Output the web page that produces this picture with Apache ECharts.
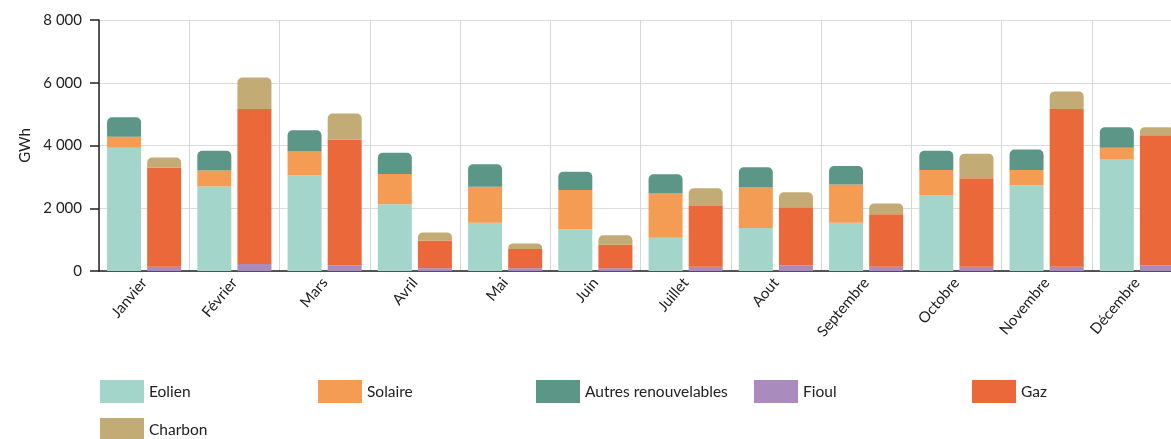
<!DOCTYPE html>
<html>
<head>
<meta charset="utf-8">
<script src="https://cdn.jsdelivr.net/npm/echarts@6/dist/echarts.min.js"></script>
<style>
html,body{margin:0;padding:0;background:#fff;overflow:hidden;width:1171px;height:439px;}
#chart{width:1182px;height:439px;}
</style>
</head>
<body>
<div id="chart"></div>
<script>
const months = ['Janvier','Février','Mars','Avril','Mai','Juin','Juillet','Aout','Septembre','Octobre','Novembre','Décembre'];
const eolien  = [3930, 2690, 3040, 2125, 1540, 1330, 1060, 1370, 1540, 2420, 2730, 3570];
const solaire = [ 350,  510,  765,  965, 1145, 1250, 1410, 1295, 1220,  800,  490,  360];
const autres  = [ 620,  635,  680,  680,  715,  585,  615,  640,  585,  615,  655,  650];
const fioul   = [ 135,  225,  180,   85,   85,   85,  135,  180,  135,  135,  135,  180];
const gaz     = [3160, 4940, 4000,  890,  615,  755, 1940, 1850, 1670, 2820, 5030, 4150];
const charbon = [ 320, 1000,  840,  255,  180,  300,  560,  480,  350,  785,  560,  255];
const yTicks = [0, 2000, 4000, 6000, 8000];
const legendNames = ['Eolien','Solaire','Autres renouvelables','Fioul','Gaz','Charbon'];

const colors = ['#a3d5cb', '#f49c53', '#5c9687', '#a98bbd', '#eb683b', '#c2ab74'];
const FONT = 'Lato, "Open Sans", sans-serif';

function bar(i, data, stack, top) {
  return {
    name: legendNames[i], type: 'bar', stack: stack, data: data,
    barWidth: 34, barGap: '18%',
    itemStyle: { color: colors[i], borderRadius: top ? [5,5,0,0] : 0 },
    emphasis: { disabled: true }
  };
}

const legendPos = [[100,380],[318,380],[536,380],[754,380],[972,380],[100,418]];
const legends = legendNames.map((n, i) => ({
  left: legendPos[i][0], top: legendPos[i][1], padding: 0,
  itemWidth: 44, itemHeight: 23, icon: 'rect',
  textStyle: { fontFamily: FONT, fontSize: 15.5, color: '#222' },
  data: [n]
}));

const chart = echarts.init(document.getElementById('chart'));
chart.setOption({
  animation: false,
  textStyle: { fontFamily: FONT },
  grid: { left: 99, top: 20, right: 0, bottom: 168, containLabel: false, outerBoundsMode: 'none' },
  legend: legends,
  xAxis: {
    type: 'category', data: months,
    axisLine: { lineStyle: { color: '#222', width: 1.5 } },
    axisTick: { alignWithLabel: true, length: 5, lineStyle: { color: '#222', width: 1.5 } },
    splitLine: { show: true, lineStyle: { color: '#d6d6d6', width: 1 } },
    axisLabel: { rotate: 50, fontSize: 15, color: '#222', margin: 9, fontFamily: FONT, interval: 0 }
  },
  yAxis: {
    type: 'value', min: yTicks[0], max: yTicks[yTicks.length-1], interval: 2000,
    name: 'GWh', nameLocation: 'middle', nameGap: 66,
    nameTextStyle: { fontSize: 15, color: '#222', fontFamily: FONT },
    axisLine: { show: true, lineStyle: { color: '#222', width: 1.5 } },
    axisTick: { show: true, length: 9, lineStyle: { color: '#222', width: 1.5 } },
    splitLine: { show: true, lineStyle: { color: '#dcdcdc', width: 1 } },
    axisLabel: {
      fontSize: 15, color: '#222', margin: 17, fontFamily: FONT,
      formatter: v => String(v).replace(/\B(?=(\d{3})+(?!\d))/g, ' ')
    }
  },
  series: [
    bar(0, eolien, 'ren', false),
    bar(1, solaire, 'ren', false),
    bar(2, autres, 'ren', true),
    bar(3, fioul, 'fos', false),
    bar(4, gaz, 'fos', false),
    bar(5, charbon, 'fos', true)
  ]
});
</script>
</body>
</html>
